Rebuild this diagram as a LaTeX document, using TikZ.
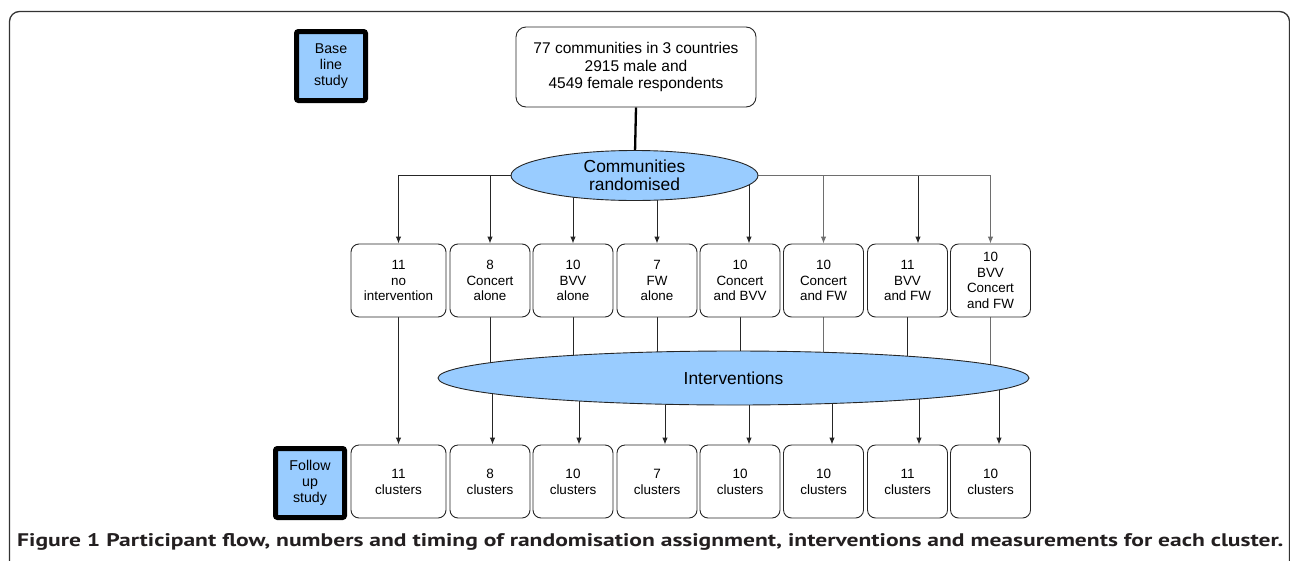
\documentclass[tikz,border=0pt]{standalone}
\usepackage{graphicx}
\usepackage{fontspec}
\setmainfont{Liberation Sans}
\newfontfamily\capfont{PT Sans}
\usetikzlibrary{arrows.meta,shapes.geometric,backgrounds,calc}
\definecolor{lblue}{RGB}{153,204,255}
\definecolor{capcol}{RGB}{35,31,32}
\definecolor{lgray}{RGB}{110,110,110}
\begin{document}
\begin{tikzpicture}[x=1pt,y=-1pt,
  box/.style={draw=black!85, line width=0.9pt, rounded corners=8pt, fill=white, align=center, inner sep=0pt,
    minimum width=80pt, minimum height=73pt, font=\fontsize{13.4}{15.6}\selectfont},
  clbox/.style={box, font=\fontsize{13.5}{16}\selectfont},
  studybox/.style={draw=black, line width=5pt, rounded corners=2pt, fill=lblue, align=center, inner sep=0pt,
    minimum width=69pt, minimum height=69pt, font=\fontsize{14.2}{16}\selectfont},
  oval/.style={ellipse, draw=black!85, line width=0.9pt, fill=lblue, inner sep=0pt, align=center,
    font=\fontsize{17.4}{18.3}\selectfont},
  conn/.style={draw=black!85, line width=1pt},
  arr/.style={conn, -{Latex[length=7pt,width=5.5pt]}},
  garr/.style={arr, draw=lgray}
]
\useasboundingbox (0,0) rectangle (1290,560);
\begin{scope}
  \clip (0,0) rectangle (1290,560);
  \draw[black!80, line width=1.3pt, rounded corners=10pt] (9.5,11.5) rectangle (1289.5,600);
\end{scope}

% study boxes
\node[studybox] (base) at (331,66) {Base\\line\\study};
\node[studybox] (follow) at (310,483) {Follow\\up\\study};

% top box
\node[box, minimum width=240pt, minimum height=80pt, rounded corners=10pt,
  font=\fontsize{15.5}{17.5}\selectfont] (top) at (636,67)
  {77 communities in 3 countries\\2915 male and\\4549 female respondents};

% ellipses
\node[oval, minimum width=247pt, minimum height=50pt] (rand) at (634.5,175.5) {Communities\\randomised};
\node[oval, minimum width=591pt, minimum height=54pt] (inter) at (733.5,378) {Interventions};

% middle row
\node[box, minimum width=95pt] (m1) at (398.5,280.5) {11\\no\\intervention};
\node[box] (m2) at (490,280.5) {8\\Concert\\alone};
\node[box] (m3) at (573,280.5) {10\\BVV\\alone};
\node[box] (m4) at (657,280.5) {7\\FW\\alone};
\node[box] (m5) at (740,280.5) {10\\Concert\\and BVV};
\node[box] (m6) at (823.5,280.5) {10\\Concert\\and FW};
\node[box] (m7) at (907.5,280.5) {11\\BVV\\and FW};
\node[box] (m8) at (990.5,280.5) {10\\BVV\\Concert\\and FW};

% bottom row
\node[clbox, minimum width=95pt] (b1) at (398.5,481.5) {11\\clusters};
\node[clbox] (b2) at (490,481.5) {8\\clusters};
\node[clbox] (b3) at (573,481.5) {10\\clusters};
\node[clbox] (b4) at (657,481.5) {7\\clusters};
\node[clbox] (b5) at (740,481.5) {10\\clusters};
\node[clbox] (b6) at (823.5,481.5) {10\\clusters};
\node[clbox] (b7) at (907.5,481.5) {11\\clusters};
\node[clbox] (b8) at (990.5,481.5) {10\\clusters};

% arrow targets
\coordinate (u5) at ($(m5.north)+(9,0)$);
\coordinate (u7) at ($(m7.north)+(10.5,0)$);
\coordinate (t2) at ($(b2.north)+(2.5,0)$);
\coordinate (t3) at ($(b3.north)+(6,0)$);
\coordinate (t4) at ($(b4.north)+(8,0)$);
\coordinate (t5) at ($(b5.north)+(9,0)$);
\coordinate (t6) at ($(b6.north)+(8.5,0)$);
\coordinate (t7) at ($(b7.north)+(11.5,0)$);
\coordinate (t8) at ($(b8.north)+(8.5,0)$);

\begin{scope}[on background layer]
  \draw[conn, line width=2.3pt, draw=black] (top.south) -- (rand.center);
  \draw[arr] (rand.center) -| (m1.north);
  \draw[arr] (rand.center) -| (m2.north);
  \draw[arr] (rand.center) -| (m3.north);
  \draw[arr] (rand.center) -| (m4.north);
  \draw[arr] (rand.center) -| (u5);
  \draw[garr] (rand.center) -| (m6.north);
  \draw[arr] (rand.center) -| (u7);
  \draw[garr] (rand.center) -| (m8.north);
  % middle to interventions
  \draw[arr] (m1.south) -- (b1.north);
  \draw[conn] (m2.south) -- (m2.south |- inter.center);
  \draw[conn] (m3.south) -- (m3.south |- inter.center);
  \draw[conn] (m4.south) -- (m4.south |- inter.center);
  \draw[conn] (m5.south) -- (m5.south |- inter.center);
  \draw[conn, draw=lgray] (m6.south) -- (m6.south |- inter.center);
  \draw[conn] (m7.south) -- (m7.south |- inter.center);
  \draw[conn, draw=lgray] (m8.south) -- (m8.south |- inter.center);
  % interventions to clusters
  \draw[arr] (t2 |- inter.center) -- (t2);
  \draw[arr] (t3 |- inter.center) -- (t3);
  \draw[arr] (t4 |- inter.center) -- (t4);
  \draw[arr] (t5 |- inter.center) -- (t5);
  \draw[arr] (t6 |- inter.center) -- (t6);
  \draw[arr] (t7 |- inter.center) -- (t7);
  \draw[arr] (t8 |- inter.center) -- (t8);
\end{scope}

% caption
\node[anchor=base west, inner sep=0pt, text=capcol] (cap) at (17,546)
  {\resizebox{1266pt}{13pt}{\capfont\bfseries Figure 1 Participant flow, numbers and timing of randomisation assignment, interventions and measurements for each cluster.}};
\end{tikzpicture}
\end{document}
